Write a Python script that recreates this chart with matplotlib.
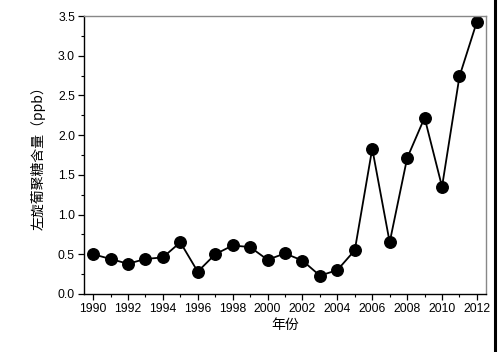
import matplotlib
matplotlib.use("Agg")
import matplotlib.pyplot as plt
from matplotlib.ticker import MultipleLocator
from matplotlib.lines import Line2D

years = [1990, 1991, 1992, 1993, 1994, 1995, 1996, 1997, 1998, 1999, 2000, 2001,
         2002, 2003, 2004, 2005, 2006, 2007, 2008, 2009, 2010, 2011, 2012]
values = [0.50, 0.44, 0.38, 0.44, 0.46, 0.65, 0.28, 0.50, 0.61, 0.59, 0.43, 0.51,
          0.42, 0.23, 0.30, 0.55, 1.83, 0.65, 1.71, 2.22, 1.35, 2.74, 3.43]
xticks = list(range(1990, 2013, 2))
yticks = [0.0, 0.5, 1.0, 1.5, 2.0, 2.5, 3.0, 3.5]

plt.rcParams['font.family'] = ['Liberation Sans', 'Noto Sans CJK SC', 'DejaVu Sans']

fig = plt.figure(figsize=(5.0, 3.52), dpi=100)
ax = fig.add_axes([0.168, 0.165, 0.804, 0.7895])

ax.plot(years, values, color='black', linewidth=1.3, marker='o', markersize=8.3,
        markerfacecolor='black', markeredgecolor='black')

ax.set_xlim(1989.48, 2012.52)
ax.set_ylim(0, 3.5)
ax.set_xticks(xticks)
ax.set_xticklabels([str(t) for t in xticks])
ax.set_yticks(yticks)
ax.set_yticklabels([f"{t:.1f}" for t in yticks])
ax.xaxis.set_minor_locator(MultipleLocator(1))
ax.yaxis.set_minor_locator(MultipleLocator(0.25))
ax.tick_params(which='major', direction='out', length=4, width=0.9, labelsize=8.8, pad=2.5)
ax.tick_params(which='minor', direction='out', length=2.5, width=0.8)
ax.tick_params(top=False, right=False)

for s in ['left', 'bottom']:
    ax.spines[s].set_color('black')
    ax.spines[s].set_linewidth(1.0)
for s in ['top', 'right']:
    ax.spines[s].set_color('#888888')
    ax.spines[s].set_linewidth(1.0)

ax.set_ylabel('左旋葡聚糖含量（ppb）', fontsize=10,
              family=['Noto Sans CJK SC', 'DejaVu Sans'], labelpad=9)
ax.set_xlabel('年份', fontsize=10, family=['Noto Sans CJK SC', 'DejaVu Sans'], labelpad=2)

fig.add_artist(Line2D([0.99, 0.99], [0.0, 1.0], transform=fig.transFigure,
                      color='black', linewidth=2.2))

fig.savefig('out.png', dpi=100)
